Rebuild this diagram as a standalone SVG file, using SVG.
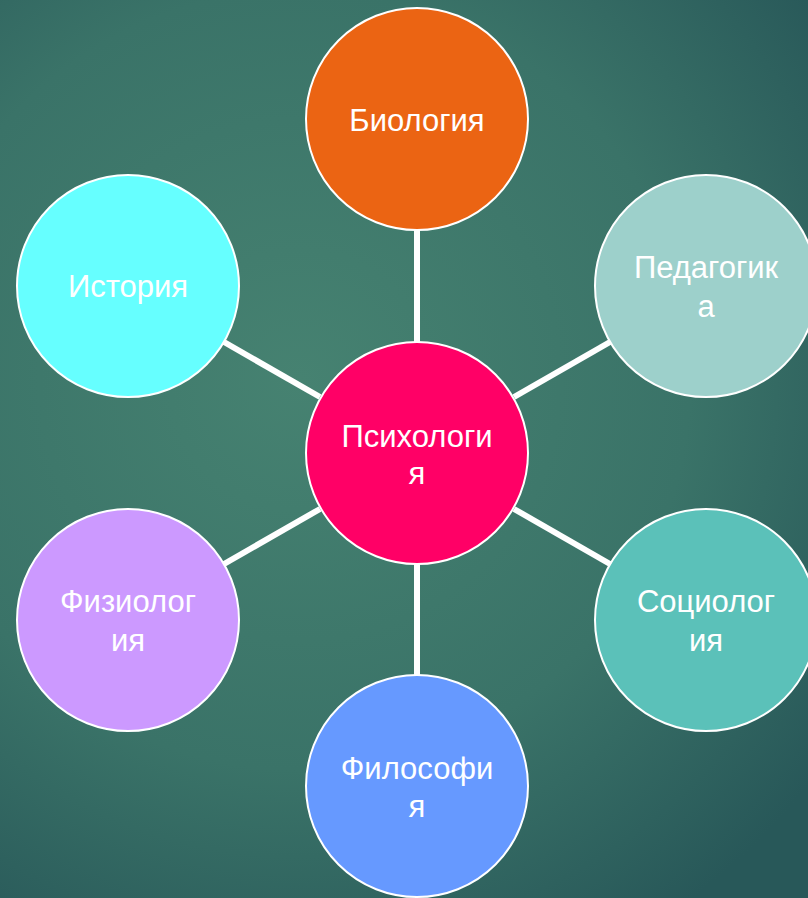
<svg xmlns="http://www.w3.org/2000/svg" width="808" height="898" viewBox="0 0 808 898">
<defs>
<radialGradient id="bg" cx="300" cy="380" r="650" gradientUnits="userSpaceOnUse">
<stop offset="0" stop-color="#468271"/>
<stop offset="0.6" stop-color="#3a7368"/>
<stop offset="1" stop-color="#285859"/>
</radialGradient>
<style>
.n{stroke:#ffffff;stroke-width:2}
.t{font-family:"Liberation Sans",Arial,sans-serif;font-size:31px;fill:#ffffff;text-anchor:middle}
.c{stroke:#ffffff;stroke-width:6;fill:none}
</style>
</defs>
<rect width="808" height="898" fill="url(#bg)"/>
<g id="connectors">
<line class="c" x1="417" y1="230" x2="417" y2="342"/>
<line class="c" x1="417" y1="564" x2="417" y2="676"/>
<line class="c" x1="224" y1="342" x2="320" y2="397"/>
<line class="c" x1="610" y1="342" x2="514" y2="397"/>
<line class="c" x1="224" y1="564" x2="320" y2="509"/>
<line class="c" x1="610" y1="564" x2="514" y2="509"/>
</g>
<g id="biology"><circle class="n" cx="417" cy="119" r="111" fill="#EB6413"/><text class="t" x="417" y="131">Биология</text></g>
<g id="pedagogika"><circle class="n" cx="706" cy="286" r="111" fill="#9DD0CB"/><text class="t" x="706" y="278">Педагогик</text><text class="t" x="706" y="317">а</text></g>
<g id="sociologia"><circle class="n" cx="706" cy="620" r="111" fill="#5BC1B9"/><text class="t" x="706" y="612">Социолог</text><text class="t" x="706" y="651">ия</text></g>
<g id="filosofia"><circle class="n" cx="417" cy="786" r="111" fill="#6699FF"/><text class="t" x="417" y="779">Философи</text><text class="t" x="417" y="817">я</text></g>
<g id="fiziologia"><circle class="n" cx="128" cy="620" r="111" fill="#CC99FF"/><text class="t" x="128" y="612">Физиолог</text><text class="t" x="128" y="651">ия</text></g>
<g id="istoria"><circle class="n" cx="128" cy="286" r="111" fill="#66FFFF"/><text class="t" x="128" y="297">История</text></g>
<g id="psihologia"><circle class="n" cx="417" cy="453" r="111" fill="#FF0066"/><text class="t" x="417" y="447">Психологи</text><text class="t" x="417" y="484">я</text></g>
</svg>
